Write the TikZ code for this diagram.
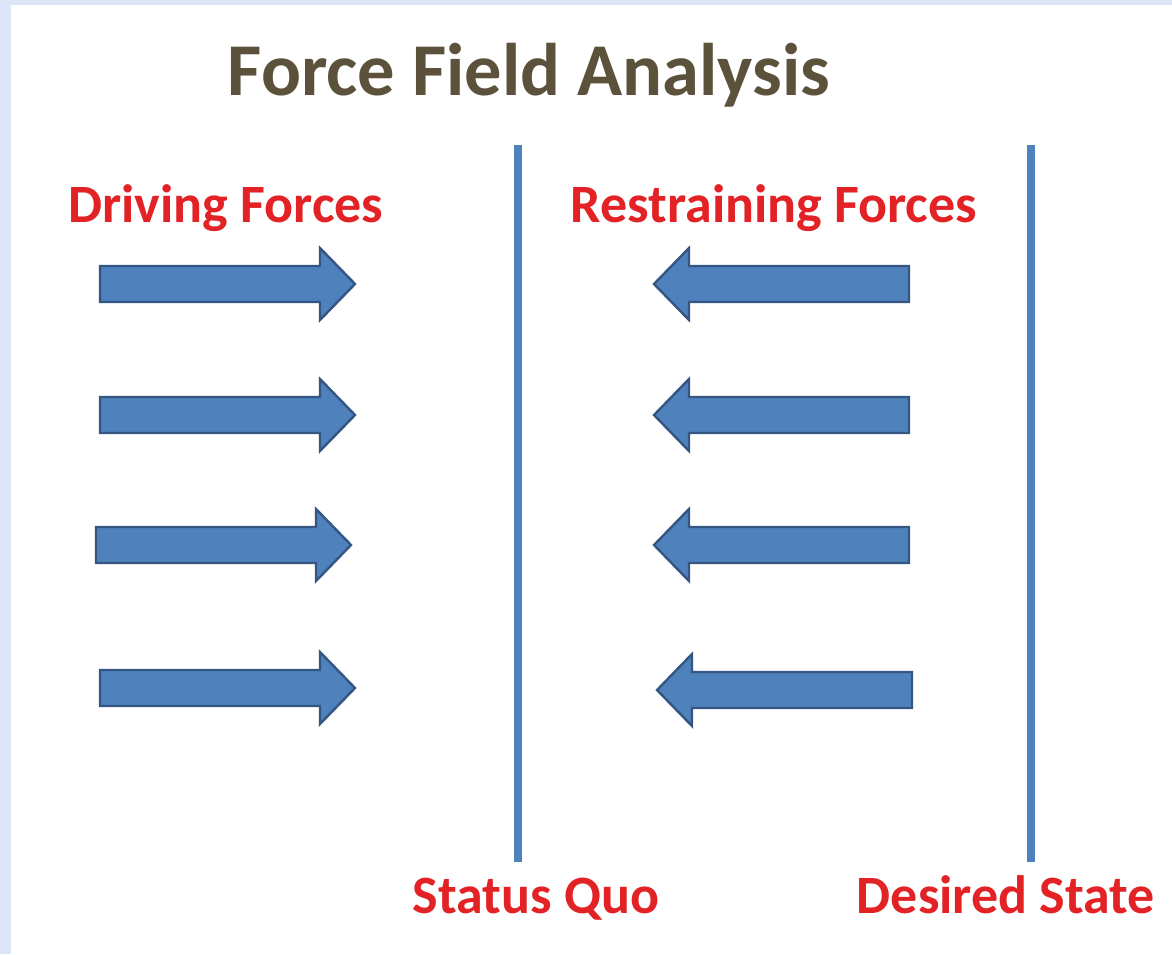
\documentclass[tikz,border=0pt]{standalone}
\usepackage{fontspec}
\setmainfont{Carlito}
\usepackage{tikz}
\usetikzlibrary{arrows.meta}
\usetikzlibrary{positioning}

\definecolor{frameblue}{RGB}{220,230,246}
\definecolor{forceblue}{RGB}{79,129,189}
\definecolor{edgeblue}{RGB}{52,86,130}
\definecolor{labelred}{RGB}{226,34,36}
\definecolor{titlebrown}{RGB}{92,82,60}

\tikzset{
    force/.style = {fill = forceblue, draw = edgeblue, line width = 2.4pt, line join = miter},
    divider/.style = {draw = forceblue, line width = 8pt},
    heading/.style = {anchor = base, inner sep = 0pt, text = labelred,
                      font = \bfseries\fontsize{54}{60}\selectfont},
}

\begin{document}
\begin{tikzpicture}
    [   x = 1pt, y = -1pt
    ,   > = Stealth
    ]
    \useasboundingbox (0,0) rectangle (1172,954);
    \fill[frameblue] (0,0) rectangle (1172,954);
    \fill[white] (11,5) rectangle (1172,954);

    \node[anchor = base, inner sep = 0pt, text = titlebrown,
          font = \bfseries\fontsize{74.5}{80}\selectfont] (title) at (529,95) {Force Field Analysis};

    \node[heading] (driving) at (226,222) {Driving Forces};
    \node[heading] (restraining) at (774,222) {Restraining Forces};
    \node[heading] (statusquo) at (536,913) {Status Quo};
    \node[heading] (desired) at (1006,913) {Desired State};

    % the two states
    \draw[divider] (518,145) -- (518,862);
    \draw[divider] (1031,145) -- (1031,862);

    % block arrows: tail x / centre y / direction
    \foreach\tx/\yy/\s in {100/284/1,100/415/1,96/545/1,100/688/1,
                           909/284/-1,909/415/-1,909/545/-1,912/690/-1}
    {
        \draw[force] (\tx,\yy-18) -- ++({\s*220},0) -- ++(0,-18)
            -- ++({\s*35},36) -- ++({-\s*35},36) -- ++(0,-18)
            -- ++({-\s*220},0) -- cycle;
    }
\end{tikzpicture}
\end{document}
